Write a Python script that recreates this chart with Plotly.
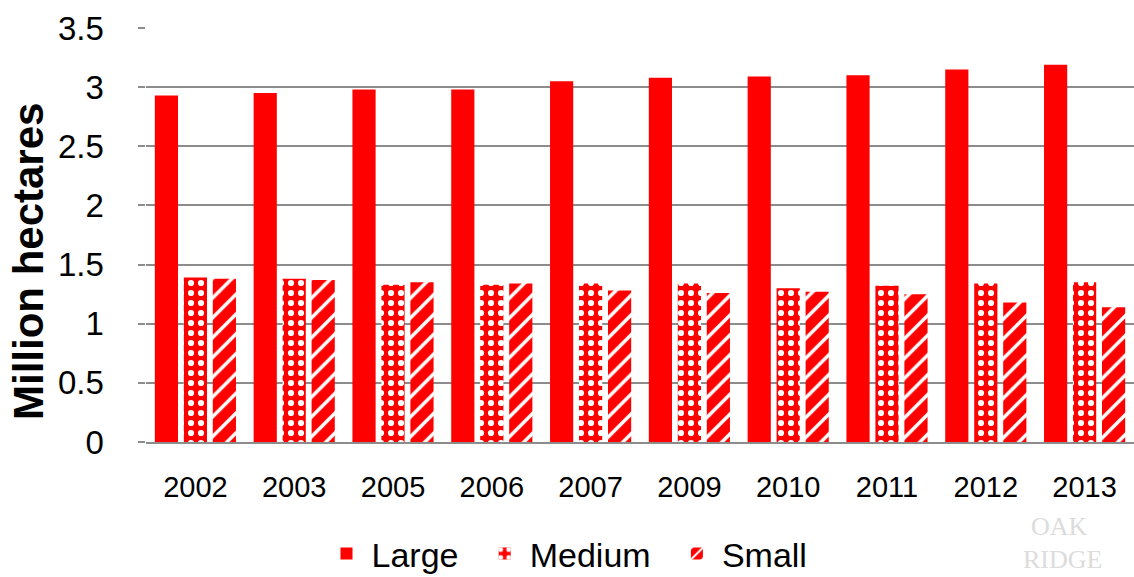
import plotly.graph_objects as go

years = ["2002", "2003", "2005", "2006", "2007", "2009", "2010", "2011", "2012", "2013"]
large = [2.93, 2.95, 2.98, 2.98, 3.05, 3.08, 3.09, 3.10, 3.15, 3.19]
medium = [1.39, 1.38, 1.33, 1.33, 1.34, 1.34, 1.30, 1.32, 1.34, 1.35]
small = [1.38, 1.37, 1.35, 1.34, 1.28, 1.26, 1.27, 1.25, 1.18, 1.14]

RED = "#ff0000"
PAD = "\u00a0\u2009"
fig = go.Figure()
fig.add_trace(go.Bar(name="Large" + PAD, x=years, y=large,
                     marker=dict(color=RED, line=dict(width=0))))
fig.add_trace(go.Bar(name="Medium" + PAD, x=years, y=medium,
                     marker=dict(color=RED, line=dict(width=0),
                                 pattern=dict(shape=".", fgcolor="white", bgcolor=RED,
                                              fgopacity=1, size=10, solidity=0.3))))
fig.add_trace(go.Bar(name="Small", x=years, y=small,
                     marker=dict(color=RED, line=dict(width=0),
                                 pattern=dict(shape="/", fgcolor="white", bgcolor=RED,
                                              fgopacity=1, size=14, solidity=0.25))))

fig.update_layout(
    width=1134, height=577,
    margin=dict(l=146, r=0, t=28, b=135, autoexpand=False),
    paper_bgcolor="white", plot_bgcolor="white",
    barmode="group", bargap=0.12, bargroupgap=0.2,
    font=dict(family="Liberation Sans, Arial, sans-serif", color="black"),
    showlegend=True,
    legend=dict(orientation="h", x=0.5, xanchor="center", xref="container",
                y=(442 - 525) / 414, yanchor="top", yref="paper",
                font=dict(size=34), itemwidth=40, tracegroupgap=0),
    xaxis=dict(showgrid=False, showline=True, linecolor="#8c8c8c", linewidth=1.5,
               ticks="", tickfont=dict(size=29), ticklabelstandoff=18),
    yaxis=dict(range=[0, 3.5], tick0=0, dtick=0.5,
               showgrid=True, gridcolor="#8c8c8c", gridwidth=1.5, griddash="solid",
               zeroline=False, showline=False,
               ticks="outside", ticklen=7, tickcolor="#8c8c8c", tickwidth=1.5,
               tickfont=dict(size=33), ticksuffix="\u00a0\u00a0\u00a0"),
    annotations=[
        dict(text="<b>Million hectares</b>", textangle=-90, xref="paper", yref="paper",
             x=(28 - 146) / 988, y=(442 - 262) / 414, xanchor="center", yanchor="middle",
             showarrow=False, font=dict(size=42, color="black")),
        dict(text="OAK", xref="paper", yref="paper", x=(1030 - 146) / 988, y=(442 - 526) / 414,
             xanchor="left", yanchor="middle", showarrow=False, borderpad=0,
             font=dict(size=26, color="#dcdcdc", family="Liberation Serif, serif")),
        dict(text="RIDGE", xref="paper", yref="paper", x=(1022 - 146) / 988, y=(442 - 559) / 414,
             xanchor="left", yanchor="middle", showarrow=False, borderpad=0,
             font=dict(size=26, color="#dcdcdc", family="Liberation Serif, serif")),
    ],
)

fig.write_html("out.html")
